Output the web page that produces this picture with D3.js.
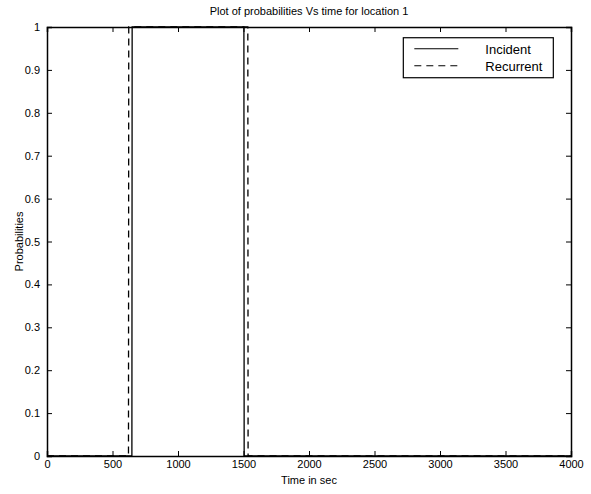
<!DOCTYPE html>
<html>
<head>
<meta charset="utf-8">
<script src="https://cdn.jsdelivr.net/npm/d3@7"></script>
<style>
  body { margin: 0; background: #fff; }
  svg { font-family: "Liberation Sans", Arial, sans-serif; }
</style>
</head>
<body>
<script>
// step data (time in sec, probability)
const incidentT = [0, 648, 650, 1503, 1505, 4000];
const incidentP = [0, 0, 1, 1, 0, 0];
const recurrentT = [0, 622, 624, 1533, 1535, 4000];
const recurrentP = [0, 0, 1, 1, 0, 0];
const xTicks = [0, 500, 1000, 1500, 2000, 2500, 3000, 3500, 4000];
const yTicks = [0, 0.1, 0.2, 0.3, 0.4, 0.5, 0.6, 0.7, 0.8, 0.9, 1];

const W = 591, H = 494;
const margin = { top: 27, right: 20, bottom: 38, left: 47 };
const width = W - margin.left - margin.right;
const height = H - margin.top - margin.bottom;

const svg = d3.select('body').append('svg')
    .attr('width', W)
    .attr('height', H);

const g = svg.append('g')
    .attr('transform', `translate(${margin.left},${margin.top})`);

const x = d3.scaleLinear().domain([0, 4000]).range([0, width]);
const y = d3.scaleLinear().domain([0, 1]).range([height, 0]);

// series
const line = d3.line().x(d => x(d[0])).y(d => y(d[1]));
g.append('path')
    .datum(incidentT.map((t, i) => [t, incidentP[i]]))
    .attr('fill', 'none').attr('stroke', '#000').attr('stroke-width', 1.3)
    .attr('d', line);
g.append('path')
    .datum(recurrentT.map((t, i) => [t, recurrentP[i]]))
    .attr('fill', 'none').attr('stroke', '#000').attr('stroke-width', 1.3)
    .attr('stroke-dasharray', '7,5')
    .attr('d', line);

// axes, ticks inward like matlab
const fmt = d => d3.format('~g')(d);
g.append('g').attr('transform', `translate(0,${height})`)
    .call(d3.axisBottom(x).tickValues(xTicks).tickSize(-5).tickPadding(4).tickFormat(fmt));
g.append('g')
    .call(d3.axisTop(x).tickValues(xTicks).tickSize(-5).tickFormat(''));
g.append('g')
    .call(d3.axisLeft(y).tickValues(yTicks).tickSize(-5).tickPadding(7).tickFormat(fmt));
g.append('g').attr('transform', `translate(${width},0)`)
    .call(d3.axisRight(y).tickValues(yTicks).tickSize(-5).tickFormat(''));

g.selectAll('.domain').attr('stroke', '#000').attr('stroke-width', 1.5);
g.selectAll('.tick line').attr('stroke', '#000');
g.selectAll('.tick text').attr('fill', '#000').style('font-size', '11px');

// titles
svg.append('text')
    .attr('x', margin.left + width / 2).attr('y', 15)
    .attr('text-anchor', 'middle').style('font-size', '11px')
    .text('Plot of probabilities Vs time for location 1');
svg.append('text')
    .attr('x', margin.left + width / 2).attr('y', 484)
    .attr('text-anchor', 'middle').style('font-size', '11px')
    .text('Time in sec');
svg.append('text')
    .attr('transform', `translate(23,${margin.top + height / 2}) rotate(-90)`)
    .attr('text-anchor', 'middle').style('font-size', '11px')
    .text('Probabilities');

// legend
const legend = g.append('g').attr('transform', `translate(${x(2720)},${y(0.975)})`);
legend.append('rect')
    .attr('width', 150).attr('height', 40)
    .attr('fill', '#fff').attr('stroke', '#000').attr('stroke-width', 1.2);
const items = [['Incident', null], ['Recurrent', '7,5']];
items.forEach((it, i) => {
    legend.append('line')
        .attr('x1', 11).attr('x2', 55)
        .attr('y1', 11 + i * 17).attr('y2', 11 + i * 17)
        .attr('stroke', '#000').attr('stroke-width', 1.2)
        .attr('stroke-dasharray', it[1]);
    legend.append('text')
        .attr('x', 82).attr('y', 16 + i * 17)
        .style('font-size', '13px')
        .text(it[0]);
});
</script>
</body>
</html>
